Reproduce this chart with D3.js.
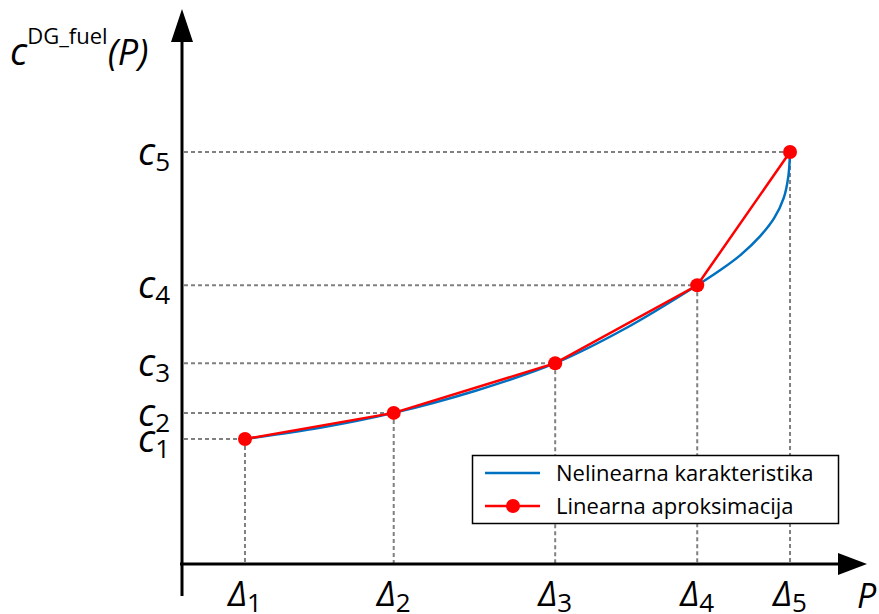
<!DOCTYPE html>
<html>
<head>
<meta charset="utf-8">
<script src="https://cdn.jsdelivr.net/npm/d3@7"></script>
<style>
  body { margin: 0; background: #fff; }
  svg { display: block; font-family: "Open Sans", "Noto Sans", sans-serif; }
</style>
</head>
<body>
<svg id="chart" width="879" height="614"></svg>
<script>
// breakpoints of the linear approximation (P in %, cost in %)
var deltaP = [9.4, 31.6, 55.7, 76.9, 90.75];
var costC = [23.4, 28.3, 37.6, 52.2, 77.15];
var subLabels = ["1", "2", "3", "4", "5"];

// nonlinear fuel characteristic
var curveP = [9.4, 20.6, 31.6, 43.7, 55.7, 66.3, 76.9, 80.3, 83.3, 86.3, 88.4, 89.8, 90.5, 90.75];
var curveC = [23.4, 25.5, 28.3, 32.4, 37.6, 44.2, 52.2, 55.0, 57.8, 61.4, 64.8, 68.5, 72.6, 77.15];

var legendLabels = ["Nelinearna karakteristika", "Linearna aproksimacija"];

var svg = d3.select("#chart");

var x = d3.scaleLinear().domain([0, 100]).range([182, 852]);
var y = d3.scaleLinear().domain([0, 100]).range([564, 30]);

var pts = deltaP.map(function(p, i) { return {p: p, c: costC[i], s: subLabels[i]}; });
var curvePts = curveP.map(function(p, i) { return {p: p, c: curveC[i]}; });

// dashed guides
var guides = svg.append("g")
    .attr("stroke", "#808080")
    .attr("stroke-width", 2)
    .attr("stroke-dasharray", "4,3");

guides.selectAll("line.h")
  .data(pts)
  .enter().append("line")
    .attr("class", "h")
    .attr("x1", x(0) + 2)
    .attr("x2", function(d) { return x(d.p); })
    .attr("y1", function(d) { return y(d.c); })
    .attr("y2", function(d) { return y(d.c); });

guides.selectAll("line.v")
  .data(pts)
  .enter().append("line")
    .attr("class", "v")
    .attr("x1", function(d) { return x(d.p); })
    .attr("x2", function(d) { return x(d.p); })
    .attr("y1", function(d) { return y(d.c); })
    .attr("y2", y(0));

// axes with arrows
svg.append("line")
    .attr("x1", x(0)).attr("x2", x(0))
    .attr("y1", 596).attr("y2", 36)
    .attr("stroke", "#000").attr("stroke-width", 3);
svg.append("path")
    .attr("d", "M171,42 L182,9 L193,42 Z")
    .attr("fill", "#000");

svg.append("line")
    .attr("x1", x(0) - 2).attr("x2", 842)
    .attr("y1", y(0)).attr("y2", y(0))
    .attr("stroke", "#000").attr("stroke-width", 3);
svg.append("path")
    .attr("d", "M838,553 L867,564 L838,575 Z")
    .attr("fill", "#000");

// nonlinear curve
svg.append("path")
    .datum(curvePts)
    .attr("fill", "none")
    .attr("stroke", "#0070c0")
    .attr("stroke-width", 2.5)
    .attr("d", d3.line()
        .curve(d3.curveCatmullRom.alpha(0.5))
        .x(function(d) { return x(d.p); })
        .y(function(d) { return y(d.c); }));

// linear approximation
svg.append("path")
    .datum(pts)
    .attr("fill", "none")
    .attr("stroke", "#ff0000")
    .attr("stroke-width", 2.5)
    .attr("d", d3.line()
        .x(function(d) { return x(d.p); })
        .y(function(d) { return y(d.c); }));

svg.selectAll("circle.pt")
  .data(pts)
  .enter().append("circle")
    .attr("class", "pt")
    .attr("cx", function(d) { return x(d.p); })
    .attr("cy", function(d) { return y(d.c); })
    .attr("r", 7)
    .attr("fill", "#ff0000");

// y tick labels c_i
var cl = svg.selectAll("text.cl")
  .data(pts)
  .enter().append("text")
    .attr("class", "cl")
    .attr("x", 138)
    .attr("y", function(d) { return y(d.c) + 13; })
    .attr("fill", "#000");
cl.append("tspan")
    .attr("font-style", "italic")
    .attr("font-size", 38)
    .text("c");
cl.append("tspan")
    .attr("font-size", 26)
    .attr("dy", 6)
    .text(function(d) { return d.s; });

// x tick labels Δ_i
var dl = svg.selectAll("text.dl")
  .data(pts)
  .enter().append("text")
    .attr("class", "dl")
    .attr("x", function(d) { return x(d.p); })
    .attr("y", 606)
    .attr("text-anchor", "middle")
    .attr("fill", "#000");
dl.append("tspan")
    .attr("font-style", "italic")
    .attr("font-size", 34)
    .text("Δ");
dl.append("tspan")
    .attr("font-size", 26)
    .attr("dy", 6)
    .text(function(d) { return d.s; });

// axis titles
svg.append("text")
    .attr("x", 857).attr("y", 608)
    .attr("font-style", "italic")
    .attr("font-size", 34)
    .text("P");

var yt = svg.append("text").attr("x", 10).attr("y", 65);
yt.append("tspan").attr("font-style", "italic").attr("font-size", 38).text("c");
yt.append("tspan").attr("font-size", 22).attr("dy", -21).text("DG_fuel");
yt.append("tspan").attr("font-style", "italic").attr("font-size", 36).attr("dy", 21).text("(P)");

// legend
var lg = svg.append("g");
lg.append("rect")
    .attr("x", 472.5).attr("y", 455.5)
    .attr("width", 366).attr("height", 68)
    .attr("fill", "#fff")
    .attr("stroke", "#000")
    .attr("stroke-width", 1.5);
lg.append("line")
    .attr("x1", 485).attr("x2", 540)
    .attr("y1", 473).attr("y2", 473)
    .attr("stroke", "#0070c0").attr("stroke-width", 2.5);
lg.append("line")
    .attr("x1", 485).attr("x2", 540)
    .attr("y1", 506).attr("y2", 506)
    .attr("stroke", "#ff0000").attr("stroke-width", 2.5);
lg.append("circle")
    .attr("cx", 513).attr("cy", 506).attr("r", 7)
    .attr("fill", "#ff0000");
lg.selectAll("text")
  .data(legendLabels)
  .enter().append("text")
    .attr("x", 556)
    .attr("y", function(d, i) { return 481 + i * 33; })
    .attr("font-size", 22)
    .text(function(d) { return d; });
</script>
</body>
</html>
